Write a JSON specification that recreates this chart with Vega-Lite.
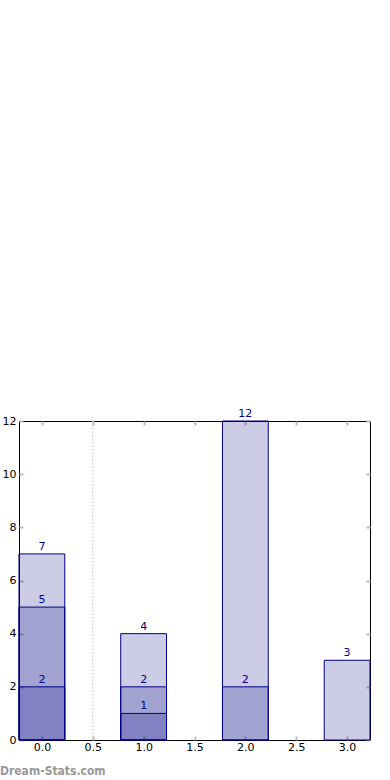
{
  "$schema": "https://vega.github.io/schema/vega-lite/v6.json",
  "autosize": "none",
  "width": 351,
  "height": 319,
  "padding": {"left": 19, "top": 421, "right": 20, "bottom": 40},
  "background": "white",
  "config": {
    "view": {"stroke": "black", "strokeWidth": 1},
    "font": "DejaVu Sans",
    "axis": {
      "grid": false,
      "domain": false,
      "tickColor": "#bbbbbb",
      "tickWidth": 2,
      "tickSize": -4,
      "labelFont": "DejaVu Sans",
      "labelFontSize": 11,
      "labelColor": "#000000",
      "title": null
    }
  },
  "title": {
    "text": "Dream-Stats.com",
    "orient": "bottom",
    "anchor": "start",
    "frame": "group",
    "dx": -19,
    "offset": 14,
    "font": "DejaVu Sans Condensed",
    "fontSize": 12,
    "fontWeight": "bold",
    "color": "#999999"
  },
  "data": {
    "values": [
      {"x": 0, "value": 7},
      {"x": 0, "value": 5},
      {"x": 0, "value": 2},
      {"x": 1, "value": 4},
      {"x": 1, "value": 2},
      {"x": 1, "value": 1},
      {"x": 2, "value": 12},
      {"x": 2, "value": 2},
      {"x": 3, "value": 3}
    ]
  },
  "layer": [
    {
      "mark": {"type": "bar", "size": 45.8, "fill": "navy", "fillOpacity": 0.2, "stroke": "navy", "strokeWidth": 1},
      "encoding": {
        "x": {"field": "x", "type": "quantitative", "scale": {"domain": [-0.225, 3.225], "nice": false, "zero": false, "padding": 0},
              "axis": {"values": [0, 0.5, 1, 1.5, 2, 2.5, 3], "format": ".1f", "labelPadding": 5}},
        "y": {"field": "value", "type": "quantitative", "stack": null, "scale": {"domain": [0, 12], "nice": false},
              "axis": {"values": [0, 2, 4, 6, 8, 10, 12], "labelPadding": 7}}
      }
    },
    {
      "mark": {"type": "text", "baseline": "bottom", "dy": -2, "fontSize": 11, "color": "#00008b", "font": "DejaVu Sans"},
      "encoding": {
        "x": {"field": "x", "type": "quantitative", "axis": null},
        "y": {"field": "value", "type": "quantitative", "stack": null, "axis": null},
        "text": {"field": "value", "type": "quantitative"}
      }
    },
    {
      "data": {"values": [{"x": 0.5}]},
      "mark": {"type": "rule", "color": "#cccccc", "strokeDash": [1.5, 2], "strokeWidth": 1.2},
      "encoding": {
        "x": {"field": "x", "type": "quantitative",
              "axis": {"orient": "top", "values": [0, 0.5, 1, 1.5, 2, 2.5, 3], "labels": false}}
      }
    },
    {
      "data": {"values": [{"y": 0}]},
      "mark": {"type": "rule", "opacity": 0},
      "encoding": {
        "y": {"field": "y", "type": "quantitative",
              "axis": {"orient": "right", "values": [0, 2, 4, 6, 8, 10, 12], "labels": false}}
      }
    }
  ],
  "resolve": {"axis": {"x": "independent", "y": "independent"}}
}
